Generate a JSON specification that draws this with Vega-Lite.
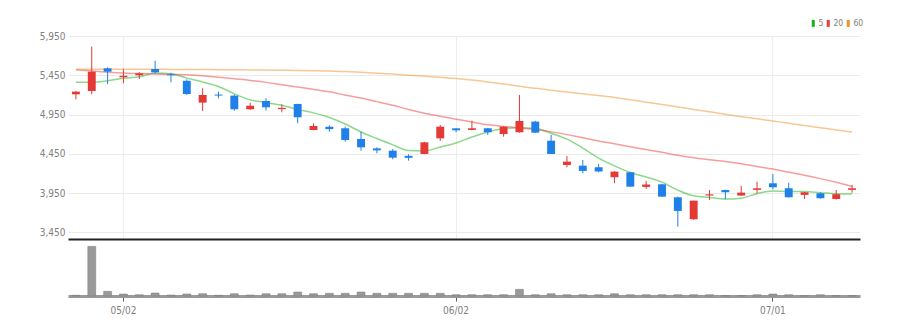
{
  "$schema": "https://vega.github.io/schema/vega-lite/v6.json",
  "background": "white",
  "padding": {"left": 5, "top": 19, "right": 5, "bottom": 5},
  "spacing": 0,
  "config": {
    "view": {"stroke": null},
    "axis": {"labelFont": "'Liberation Sans Narrow', 'DejaVu Sans Condensed', 'Liberation Sans', sans-serif", "labelColor": "#808080", "labelFontSize": 10},
    "legend": {"labelFont": "'Liberation Sans Narrow', 'DejaVu Sans Condensed', 'Liberation Sans', sans-serif"}
  },
  "datasets": {
    "k": [
      {"d": "2022-04-27", "o": 5208, "h": 5250, "l": 5145, "c": 5242, "v": 35000, "m5": 5361, "m20": 5522, "m60": 5528},
      {"d": "2022-04-28", "o": 5250, "h": 5814, "l": 5208, "c": 5496, "v": 2465000, "m5": 5361, "m20": 5505, "m60": 5528},
      {"d": "2022-04-29", "o": 5539, "h": 5552, "l": 5339, "c": 5496, "v": 233000, "m5": 5381, "m20": 5490, "m60": 5527},
      {"d": "2022-05-02", "o": 5425, "h": 5526, "l": 5348, "c": 5445, "v": 99000, "m5": 5412, "m20": 5478, "m60": 5527},
      {"d": "2022-05-03", "o": 5450, "h": 5488, "l": 5403, "c": 5475, "v": 64000, "m5": 5431, "m20": 5472, "m60": 5526},
      {"d": "2022-05-04", "o": 5530, "h": 5636, "l": 5475, "c": 5488, "v": 149000, "m5": 5480, "m20": 5465, "m60": 5526},
      {"d": "2022-05-06", "o": 5463, "h": 5483, "l": 5361, "c": 5450, "v": 50000, "m5": 5471, "m20": 5460, "m60": 5525},
      {"d": "2022-05-09", "o": 5380, "h": 5399, "l": 5200, "c": 5212, "v": 99000, "m5": 5414, "m20": 5456, "m60": 5524},
      {"d": "2022-05-10", "o": 5102, "h": 5285, "l": 4996, "c": 5200, "v": 114000, "m5": 5365, "m20": 5445, "m60": 5523},
      {"d": "2022-05-11", "o": 5205, "h": 5242, "l": 5157, "c": 5192, "v": 35000, "m5": 5308, "m20": 5425, "m60": 5522},
      {"d": "2022-05-12", "o": 5191, "h": 5204, "l": 4999, "c": 5018, "v": 114000, "m5": 5214, "m20": 5405, "m60": 5520},
      {"d": "2022-05-13", "o": 5018, "h": 5102, "l": 5009, "c": 5063, "v": 50000, "m5": 5137, "m20": 5385, "m60": 5518},
      {"d": "2022-05-16", "o": 5123, "h": 5157, "l": 4999, "c": 5043, "v": 114000, "m5": 5103, "m20": 5360, "m60": 5516},
      {"d": "2022-05-17", "o": 5020, "h": 5081, "l": 4979, "c": 5035, "v": 114000, "m5": 5070, "m20": 5330, "m60": 5514},
      {"d": "2022-05-18", "o": 5085, "h": 5090, "l": 4840, "c": 4916, "v": 198000, "m5": 5015, "m20": 5300, "m60": 5512},
      {"d": "2022-05-19", "o": 4754, "h": 4840, "l": 4750, "c": 4805, "v": 114000, "m5": 4972, "m20": 5270, "m60": 5509},
      {"d": "2022-05-20", "o": 4795, "h": 4814, "l": 4733, "c": 4765, "v": 134000, "m5": 4913, "m20": 5240, "m60": 5505},
      {"d": "2022-05-23", "o": 4776, "h": 4796, "l": 4605, "c": 4627, "v": 134000, "m5": 4830, "m20": 5200, "m60": 5497},
      {"d": "2022-05-24", "o": 4640, "h": 4733, "l": 4491, "c": 4534, "v": 198000, "m5": 4729, "m20": 5160, "m60": 5488},
      {"d": "2022-05-25", "o": 4520, "h": 4534, "l": 4458, "c": 4495, "v": 134000, "m5": 4645, "m20": 5115, "m60": 5477},
      {"d": "2022-05-26", "o": 4491, "h": 4513, "l": 4381, "c": 4402, "v": 134000, "m5": 4565, "m20": 5068, "m60": 5465},
      {"d": "2022-05-27", "o": 4425, "h": 4445, "l": 4364, "c": 4400, "v": 134000, "m5": 4492, "m20": 5015, "m60": 5452},
      {"d": "2022-05-30", "o": 4449, "h": 4605, "l": 4445, "c": 4597, "v": 134000, "m5": 4486, "m20": 4968, "m60": 5438},
      {"d": "2022-05-31", "o": 4648, "h": 4818, "l": 4614, "c": 4796, "v": 134000, "m5": 4538, "m20": 4930, "m60": 5424},
      {"d": "2022-06-02", "o": 4775, "h": 4780, "l": 4725, "c": 4750, "v": 64000, "m5": 4589, "m20": 4892, "m60": 5410},
      {"d": "2022-06-03", "o": 4755, "h": 4873, "l": 4750, "c": 4776, "v": 64000, "m5": 4664, "m20": 4856, "m60": 5390},
      {"d": "2022-06-07", "o": 4776, "h": 4780, "l": 4691, "c": 4725, "v": 64000, "m5": 4729, "m20": 4820, "m60": 5366},
      {"d": "2022-06-08", "o": 4703, "h": 4800, "l": 4669, "c": 4796, "v": 64000, "m5": 4769, "m20": 4800, "m60": 5340},
      {"d": "2022-06-09", "o": 4725, "h": 5200, "l": 4720, "c": 4869, "v": 332000, "m5": 4783, "m20": 4782, "m60": 5312},
      {"d": "2022-06-10", "o": 4861, "h": 4870, "l": 4715, "c": 4720, "v": 64000, "m5": 4777, "m20": 4759, "m60": 5284},
      {"d": "2022-06-13", "o": 4618, "h": 4691, "l": 4449, "c": 4449, "v": 114000, "m5": 4712, "m20": 4730, "m60": 5260},
      {"d": "2022-06-14", "o": 4309, "h": 4424, "l": 4280, "c": 4351, "v": 64000, "m5": 4637, "m20": 4695, "m60": 5238},
      {"d": "2022-06-15", "o": 4300, "h": 4373, "l": 4203, "c": 4233, "v": 64000, "m5": 4524, "m20": 4654, "m60": 5215},
      {"d": "2022-06-16", "o": 4280, "h": 4322, "l": 4215, "c": 4226, "v": 64000, "m5": 4396, "m20": 4614, "m60": 5192},
      {"d": "2022-06-17", "o": 4153, "h": 4230, "l": 4076, "c": 4224, "v": 114000, "m5": 4297, "m20": 4578, "m60": 5168},
      {"d": "2022-06-20", "o": 4216, "h": 4220, "l": 4030, "c": 4033, "v": 64000, "m5": 4213, "m20": 4540, "m60": 5138},
      {"d": "2022-06-21", "o": 4030, "h": 4106, "l": 4004, "c": 4060, "v": 64000, "m5": 4155, "m20": 4505, "m60": 5108},
      {"d": "2022-06-22", "o": 4063, "h": 4070, "l": 3900, "c": 3906, "v": 64000, "m5": 4090, "m20": 4470, "m60": 5078},
      {"d": "2022-06-23", "o": 3898, "h": 3906, "l": 3524, "c": 3724, "v": 64000, "m5": 3989, "m20": 4432, "m60": 5048},
      {"d": "2022-06-24", "o": 3618, "h": 3855, "l": 3612, "c": 3855, "v": 64000, "m5": 3916, "m20": 4400, "m60": 5016},
      {"d": "2022-06-27", "o": 3920, "h": 3991, "l": 3864, "c": 3935, "v": 64000, "m5": 3896, "m20": 4376, "m60": 4985},
      {"d": "2022-06-28", "o": 3990, "h": 3995, "l": 3873, "c": 3962, "v": 15000, "m5": 3876, "m20": 4354, "m60": 4955},
      {"d": "2022-06-29", "o": 3920, "h": 4042, "l": 3915, "c": 3957, "v": 15000, "m5": 3887, "m20": 4325, "m60": 4924},
      {"d": "2022-06-30", "o": 3992, "h": 4097, "l": 3949, "c": 4012, "v": 64000, "m5": 3944, "m20": 4290, "m60": 4896},
      {"d": "2022-07-01", "o": 4076, "h": 4194, "l": 3999, "c": 4025, "v": 99000, "m5": 3978, "m20": 4257, "m60": 4868},
      {"d": "2022-07-04", "o": 4013, "h": 4084, "l": 3895, "c": 3898, "v": 64000, "m5": 3971, "m20": 4215, "m60": 4840},
      {"d": "2022-07-05", "o": 3928, "h": 3965, "l": 3876, "c": 3962, "v": 15000, "m5": 3971, "m20": 4178, "m60": 4812},
      {"d": "2022-07-06", "o": 3949, "h": 3960, "l": 3880, "c": 3886, "v": 64000, "m5": 3957, "m20": 4135, "m60": 4784},
      {"d": "2022-07-07", "o": 3876, "h": 3991, "l": 3870, "c": 3937, "v": 15000, "m5": 3942, "m20": 4088, "m60": 4755},
      {"d": "2022-07-08", "o": 3992, "h": 4055, "l": 3957, "c": 4012, "v": 15000, "m5": 3939, "m20": 4035, "m60": 4727}
    ]
  },
  "vconcat": [
    {
      "width": 792,
      "height": 203,
      "data": {"name": "k"},
      "encoding": {
        "x": {
          "field": "d", "type": "ordinal", "sort": null,
          "scale": {"type": "band", "paddingInner": 0, "paddingOuter": 0},
          "axis": {
            "values": ["2022-05-02", "2022-06-02", "2022-07-01"],
            "bandPosition": 0.5,
            "labels": false, "ticks": false, "title": null,
            "domain": true, "domainColor": "#222222", "domainWidth": 2,
            "grid": true, "gridColor": "#eeeeee", "gridWidth": 1,
            "minExtent": 0, "maxExtent": 0
          }
        }
      },
      "layer": [
        {
          "transform": [{"fold": ["m5", "m20", "m60"], "as": ["ma", "val"]}],
          "mark": {"type": "line", "strokeWidth": 1.5, "opacity": 0.5, "interpolate": "monotone"},
          "encoding": {
            "y": {
              "field": "val", "type": "quantitative",
              "scale": {"domain": [3367, 5950], "nice": false, "zero": false},
              "axis": {
                "values": [3450, 3950, 4450, 4950, 5450, 5950],
                "format": ",d", "title": null,
                "ticks": false, "domain": false,
                "grid": true, "gridColor": "#ebebeb", "gridWidth": 1,
                "labelPadding": 3, "minExtent": 63, "maxExtent": 63
              }
            },
            "color": {
              "field": "ma", "type": "nominal",
              "scale": {"domain": ["m5", "m20", "m60"], "range": ["#19b319", "#ee3b3b", "#f0922a"]},
              "legend": {
                "title": null, "orient": "none", "legendX": 741, "legendY": -17,
                "direction": "horizontal",
                "symbolType": "M0,-1.4V1.4", "symbolSize": 25,
                "symbolOpacity": 1, "symbolStrokeWidth": 3,
                "labelExpr": "substring(datum.label, 1)",
                "labelFontSize": 8.5, "labelColor": "#808080",
                "labelOffset": 1, "columnPadding": -10
              }
            }
          }
        },
        {
          "mark": {"type": "rule", "strokeWidth": 1},
          "encoding": {
            "y": {"field": "l", "type": "quantitative"},
            "y2": {"field": "h"},
            "color": {"condition": {"test": "datum.c >= datum.o", "value": "#e53935"}, "value": "#1e80e8"}
          }
        },
        {
          "mark": {"type": "bar", "width": {"band": 0.5}},
          "encoding": {
            "y": {"field": "o", "type": "quantitative"},
            "y2": {"field": "c"},
            "color": {"condition": {"test": "datum.c >= datum.o", "value": "#e53935"}, "value": "#1e80e8"}
          }
        }
      ]
    },
    {
      "width": 792,
      "height": 57,
      "data": {"name": "k"},
      "mark": {"type": "bar", "width": {"band": 0.5}, "color": "#999999", "stroke": "#7a7a7a", "strokeWidth": 0.5},
      "encoding": {
        "x": {
          "field": "d", "type": "ordinal", "sort": null,
          "scale": {"type": "band", "paddingInner": 0, "paddingOuter": 0},
          "axis": {
            "values": ["2022-05-02", "2022-06-02", "2022-07-01"],
            "bandPosition": 0.5,
            "labelExpr": "substring(datum.value, 5, 7) + '/' + substring(datum.value, 8, 10)",
            "labelAngle": 0, "labelPadding": 4, "title": null,
            "domain": true, "domainColor": "#9a9a9a", "domainWidth": 3,
            "ticks": true, "tickColor": "#555555", "tickSize": 5, "tickWidth": 1,
            "grid": false
          }
        },
        "y": {
          "field": "v", "type": "quantitative",
          "scale": {"domain": [0, 2830000], "nice": false},
          "axis": {"labels": false, "ticks": false, "domain": false, "grid": false, "title": null, "minExtent": 63, "maxExtent": 63}
        }
      }
    }
  ]
}
